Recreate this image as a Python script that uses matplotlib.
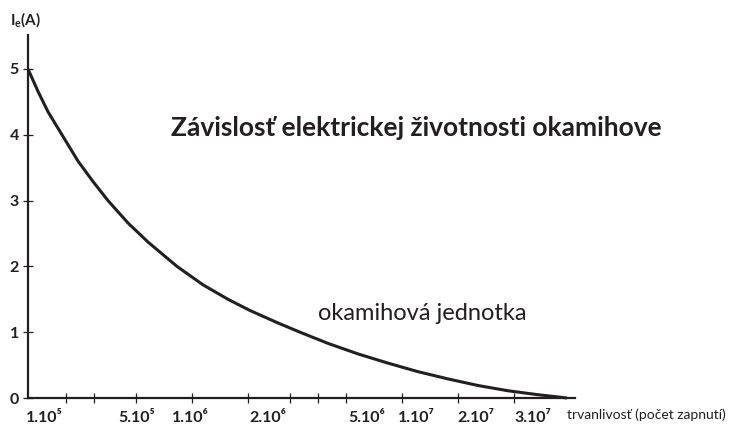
import matplotlib
matplotlib.use("Agg")
from matplotlib import pyplot as plt
from matplotlib.ticker import FixedLocator, NullFormatter

plt.rcParams['font.family'] = ['Lato', 'DejaVu Sans']
plt.rcParams['mathtext.fontset'] = 'custom'
plt.rcParams['mathtext.rm'] = 'Lato'
plt.rcParams['mathtext.bf'] = 'Lato:bold'

INK = '#231f20'

# schematic durability axis (position along the axis, not a true scale)
tick_marks = [38, 66, 108, 164, 220, 262, 290, 318, 374, 430, 486]
label_pos = [16, 109, 162, 240, 339, 388, 448, 505]
label_txt = ['1.10⁵', '5.10⁵', '1.10⁶', '2.10⁶', '5.10⁶', '1.10⁷', '2.10⁷', '3.10⁷']

# current vs. durability curve
curve_x = [0, 10, 20, 34, 50, 65, 80, 100, 120, 149, 175, 200, 222, 250, 272,
           300, 330, 360, 390, 420, 450, 480, 510, 539]
curve_y = [5.0, 4.66, 4.35, 4.0, 3.6, 3.29, 3.0, 2.66, 2.37, 2.0, 1.72, 1.50,
           1.33, 1.14, 1.0, 0.83, 0.67, 0.53, 0.40, 0.29, 0.19, 0.11, 0.05, 0.0]

y_ticks = [0, 1, 2, 3, 4, 5]

fig = plt.figure(figsize=(7.32, 4.30), dpi=100)
ax = fig.add_axes([28 / 732, 32 / 430, 547 / 732, 363 / 430])

ax.plot(curve_x, curve_y, color=INK, lw=2.2, solid_capstyle='butt',
        solid_joinstyle='round', clip_on=False)

ax.set_xlim(0, 547)
ax.set_ylim(0, 363 / 65.8)

for s in ['top', 'right']:
    ax.spines[s].set_visible(False)
for s in ['left', 'bottom']:
    ax.spines[s].set_linewidth(1.6)
    ax.spines[s].set_color(INK)

ax.set_yticks(y_ticks)
ax.set_yticklabels([str(v) for v in y_ticks], fontsize=11.5, fontweight='bold', color=INK)
ax.tick_params(axis='y', direction='inout', length=7, width=0.9, color=INK, pad=3)

ax.xaxis.set_major_locator(FixedLocator(label_pos))
ax.set_xticklabels(label_txt, fontsize=11.5, fontweight='bold', color=INK,
                   family=['Lato', 'DejaVu Sans'])
ax.tick_params(axis='x', which='major', length=0, pad=9)
ax.xaxis.set_minor_locator(FixedLocator(tick_marks))
ax.xaxis.set_minor_formatter(NullFormatter())
ax.tick_params(axis='x', which='minor', direction='inout', length=7, width=0.9, color=INK)

fig.text(10 / 732, 1 - 20 / 430, r'$\mathbf{I_e(A)}$', fontsize=11, color=INK,
         va='center', ha='left')
fig.text(171 / 732, 1 - 128 / 430, 'Závislosť elektrickej životnosti okamihove',
         fontsize=19, fontweight='bold', color=INK, va='center', ha='left')
fig.text(318 / 732, 1 - 313 / 430, 'okamihová jednotka', fontsize=17,
         color=INK, va='center', ha='left')
fig.text(567 / 732, 1 - 415 / 430, 'trvanlivosť (počet zapnutí)', fontsize=10,
         color=INK, va='center', ha='left')

fig.savefig('out.png', dpi=100)
